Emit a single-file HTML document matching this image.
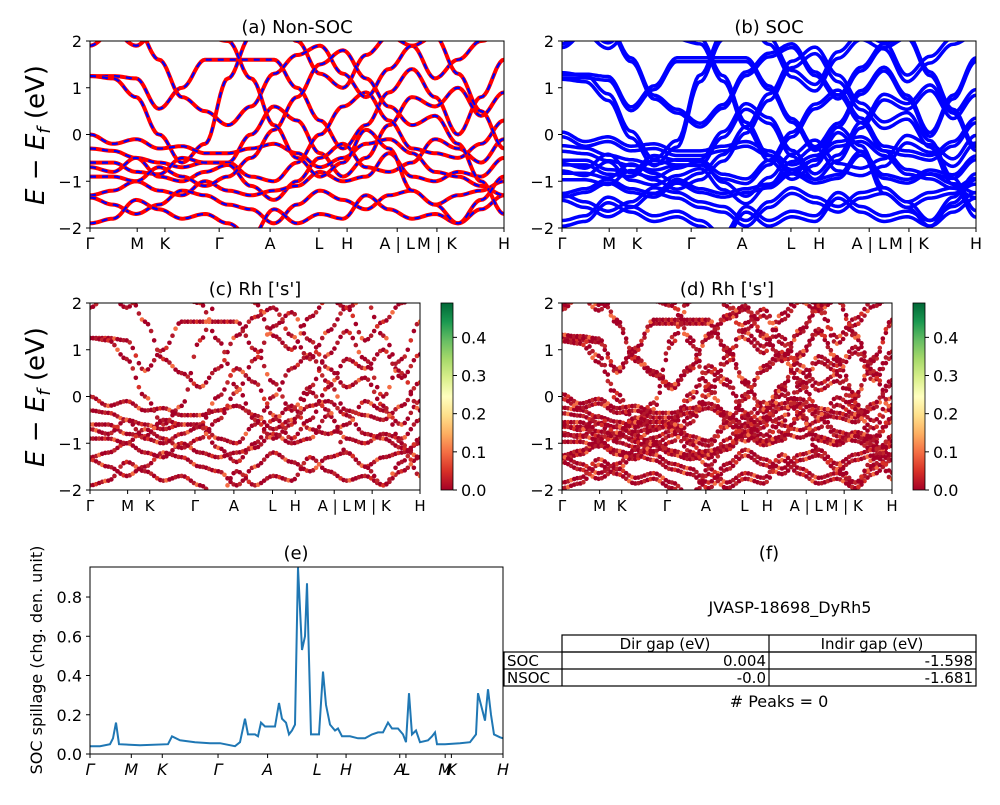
<!DOCTYPE html>
<html><head><meta charset="utf-8"><style>
body{margin:0;background:#fff}
svg text{font-family:"DejaVu Sans","Liberation Sans",sans-serif;fill:#000}
</style></head><body>
<svg id="fig" width="1000" height="800" xmlns="http://www.w3.org/2000/svg">
<defs>
<linearGradient id="cb" x1="0" y1="1" x2="0" y2="0">
<stop offset="0" stop-color="#a50026"/><stop offset="0.1" stop-color="#d73027"/><stop offset="0.2" stop-color="#f46d43"/><stop offset="0.3" stop-color="#fdae61"/><stop offset="0.4" stop-color="#fee08b"/><stop offset="0.5" stop-color="#ffffbf"/><stop offset="0.6" stop-color="#d9ef8b"/><stop offset="0.7" stop-color="#a6d96a"/><stop offset="0.8" stop-color="#66bd63"/><stop offset="0.9" stop-color="#1a9850"/><stop offset="1" stop-color="#006837"/>
</linearGradient>
<clipPath id="ca"><rect x="90" y="41" width="414" height="187"/></clipPath>
<clipPath id="cbb"><rect x="562" y="41" width="414" height="187"/></clipPath>
<clipPath id="cc"><rect x="90" y="303" width="330" height="187"/></clipPath>
<clipPath id="cd"><rect x="562" y="303" width="330" height="187"/></clipPath>
<clipPath id="ce"><rect x="90" y="567" width="413" height="187"/></clipPath>
</defs>
<g id="root"></g>
<g>
<text x="790" y="613" font-size="16" text-anchor="middle">JVASP-18698_DyRh5</text>
<g fill="none" stroke="#000" stroke-width="1.2">
<rect x="562" y="635" width="414" height="17"/><line x1="769" y1="635" x2="769" y2="686"/>
<rect x="504" y="652" width="472" height="34"/><line x1="504" y1="669" x2="976" y2="669"/><line x1="562" y1="652" x2="562" y2="686"/>
</g>
<text x="665" y="649" font-size="15" text-anchor="middle">Dir gap (eV)</text>
<text x="872" y="649" font-size="15" text-anchor="middle">Indir gap (eV)</text>
<text x="507" y="666" font-size="15">SOC</text><text x="507" y="683" font-size="15">NSOC</text>
<text x="766" y="666" font-size="15" text-anchor="end">0.004</text><text x="973" y="666" font-size="15" text-anchor="end">-1.598</text>
<text x="766" y="683" font-size="15" text-anchor="end">-0.0</text><text x="973" y="683" font-size="15" text-anchor="end">-1.681</text>
<text x="779" y="707" font-size="16" text-anchor="middle"># Peaks = 0</text>
</g>
</svg>
<script>
const kLabels=["Γ","M","K","Γ","A","L","H","A | L","M | K","H"];
const kTicks=[0,0.114,0.181,0.312,0.435,0.553,0.621,0.742,0.838,1.0];
const kLabelsSmall=["Γ","M","K","Γ","A","L","H","A | L","M | K","H"];
const kTicksSmall=[0,0.114,0.181,0.318,0.436,0.553,0.622,0.74,0.855,1.0];
const bands=[
[1.25,1.25,1.2,0.55,1.0,1.6,1.6,1.6,1.6,1.0,0.3,-0.3,0.2,0.9,1.4,0.8,0.0,0.8,1.6],
[1.25,1.2,0.8,0.0,-0.6,-0.2,1.2,2.1,2.5,2.0,1.3,1.0,1.7,2.1,1.9,1.2,1.6,2.0,2.2],
[-0.3,-0.35,-0.5,-0.6,-0.7,-0.6,-0.6,0.0,0.6,0.3,-0.4,-0.9,-0.5,0.2,0.8,0.6,1.0,0.4,0.9],
[-0.6,-0.6,-0.8,-0.85,-0.5,-0.6,-0.6,-0.9,-1.0,-0.6,0.0,0.6,0.9,0.3,-0.3,-0.4,-0.5,-0.2,0.3],
[-0.7,-0.8,-0.5,-0.9,-1.0,-0.8,-0.65,-1.1,-1.4,-1.0,-0.5,-0.2,-0.7,-0.8,-0.6,-0.1,-0.3,-0.6,-0.1],
[-1.3,-1.2,-1.0,-1.2,-1.3,-1.0,-1.2,-1.3,-1.2,-1.1,-0.8,-1.0,-0.9,-0.4,-0.9,-1.0,-0.8,-0.9,-0.5],
[-1.35,-1.5,-1.7,-1.5,-1.2,-1.3,-1.5,-1.6,-1.9,-1.5,-1.2,-1.4,-1.6,-1.3,-1.2,-1.5,-1.3,-1.2,-1.0],
[-1.9,-1.8,-1.4,-1.6,-1.8,-1.7,-1.9,-2.2,-1.6,-1.9,-1.7,-1.8,-1.3,-1.6,-1.8,-1.7,-1.9,-1.6,-1.3],
[0.0,-0.2,-0.1,-0.3,-0.25,-0.4,-0.4,-0.3,-0.2,-0.4,-0.7,-0.5,-0.2,-0.1,-0.4,-0.8,-0.9,-1.1,-1.3],
[1.9,2.2,2.3,1.6,0.8,0.5,0.2,0.6,1.3,1.7,1.9,1.3,0.8,1.4,1.9,2.1,1.3,0.5,-0.3],
[-0.9,-0.9,-1.0,-0.7,-0.9,-1.1,-0.9,-0.5,0.1,0.8,1.5,1.8,1.2,0.6,0.2,0.4,-0.2,-1.0,-1.7],
[2.1,2.2,1.9,2.3,2.2,2.1,2.0,1.2,0.2,-0.5,-0.9,-0.6,0.1,-0.3,-1.2,-1.5,-1.9,-1.4,-0.9]
];
const socSplit=[0.08,0.14,0.12,0.1,0.16,0.08,0.12,0.12,0.1,0.08,0.14,0.12];
const spillK=[0,10,20,23,26,29,50,78,82,90,105,120,130,145,150,155,158,165,168,171,175,185,189,192,196,199,202,205,208,212,215,217,221,229,233,236,240,245,248,252,260,268,275,282,288,293,298,302,308,313,316,319,322,326,330,338,342,345,347,355,370,380,386,388,392,395,398,401,404,410,413];
const spillV=[0.04,0.04,0.05,0.08,0.16,0.05,0.045,0.05,0.09,0.07,0.06,0.055,0.055,0.04,0.06,0.18,0.1,0.1,0.09,0.16,0.14,0.14,0.26,0.18,0.16,0.1,0.12,0.15,0.95,0.53,0.6,0.87,0.1,0.1,0.42,0.25,0.15,0.12,0.13,0.09,0.09,0.08,0.08,0.1,0.11,0.11,0.16,0.13,0.13,0.1,0.06,0.31,0.1,0.12,0.06,0.07,0.09,0.11,0.05,0.05,0.055,0.06,0.1,0.31,0.23,0.17,0.33,0.2,0.1,0.085,0.08];
const eTicks=[-2,-1,0,1,2];
const cbTicks=[0.0,0.1,0.2,0.3,0.4];
const spillTicks=[0.0,0.2,0.4,0.6,0.8];
const eTickLabels=["−2","−1","0","1","2"];
const root=document.getElementById('root');
const NS="http://www.w3.org/2000/svg";
function el(t,a,p){const e=document.createElementNS(NS,t);for(const k in a)e.setAttribute(k,a[k]);(p||root).appendChild(e);return e;}
function txt(x,y,s,fs,anchor,p){const t=el('text',{x:x,y:y,'font-size':fs,'text-anchor':anchor||'middle'},p);t.textContent=s;return t;}
function bandPts(b,off,X,Y){const n=b.length,pts=[];for(let i=0;i<n-1;i++){for(let s=0;s<12;s++){const f=s/12,w=(1-Math.cos(Math.PI*f))/2;const k=(i+f)/(n-1);pts.push([X(k),Y(b[i]*(1-w)+b[i+1]*w+off)]);}}pts.push([X(1),Y(b[n-1]+off)]);return pts;}
function axes(x0,y0,w,h,title,name){
 const g=el('g',{});
 const X=k=>x0+k*w, Y=e=>y0+h-(e+2)/4*h;
 return {g,X,Y,x0,y0,w,h,title};
}
function frame(A,ticks,labels,fs){
 const {g,X,Y,x0,y0,w,h}=A;
 el('rect',{x:x0,y:y0,width:w,height:h,fill:'none',stroke:'#000','stroke-width':1},g);
 ticks.forEach((k,i)=>{el('line',{x1:X(k),x2:X(k),y1:y0+h,y2:y0+h+4,stroke:'#000'},g);const t=txt(X(k),y0+h+21,labels[i],fs,'middle',g);});
 eTicks.forEach((e,i)=>{el('line',{x1:x0-4,x2:x0,y1:Y(e),y2:Y(e),stroke:'#000'},g);txt(x0-8,Y(e)+6,eTickLabels[i],16,'end',g);});
 const t=txt(x0+w/2,y0-8,A.title,18,'middle',g);
}
function path(pts){return 'M'+pts.map(p=>p[0].toFixed(1)+','+p[1].toFixed(1)).join('L');}
const A=axes(90,41,414,187,'(a) Non-SOC','panel-a-non-soc');
const ga=el('g',{'clip-path':'url(#ca)'},A.g);
bands.forEach(b=>{const p=path(bandPts(b,0,A.X,A.Y));
 const l=el('path',{d:p,fill:'none',stroke:'#ff0000','stroke-width':4},ga);
 
 
 el('path',{d:p,fill:'none',stroke:'#0000ff','stroke-width':2.2,'stroke-dasharray':'6,6'},ga);});
frame(A,kTicks,kLabels,16);
const B=axes(562,41,414,187,'(b) SOC','panel-b-soc');
const gb=el('g',{'clip-path':'url(#cbb)'},B.g);
bands.forEach((b,i)=>{[-socSplit[i]/2,socSplit[i]/2].forEach(o=>{const l=el('path',{d:path(bandPts(b,o,B.X,B.Y)),fill:'none',stroke:'#0000ff','stroke-width':3.5},gb);
 
 });});
frame(B,kTicks,kLabels,16);
const cols=['#a50026','#a50026','#b2182b','#a50026','#c0272d','#a50026','#d73027','#a50026','#b2182b','#f46d43'];
function scatter(x0,cbx,title,name,clip,soc){
 const S=axes(x0,303,330,187,title,name);
 const gs=el('g',{'clip-path':'url('+clip+')'},S.g);
 let c=0;
 bands.forEach((b,i)=>{const offs=soc?[-socSplit[i]/2,socSplit[i]/2]:[0];offs.forEach(o=>{const pts=bandPts(b,o,S.X,S.Y);for(let j=0;j<pts.length;j+=2){c++;const d=el('circle',{cx:pts[j][0],cy:pts[j][1],r:2.3,fill:cols[c%cols.length]},gs);
 
 }});});
 frame(S,kTicksSmall,kLabelsSmall,15);
 const cg=el('g',{});
 
 
 el('rect',{x:cbx,y:303,width:12,height:187,fill:'url(#cb)',stroke:'#000','stroke-width':0.8},cg);
 const cy=v=>490-v/0.49*187;
 cbTicks.forEach(v=>{el('line',{x1:cbx+12,x2:cbx+16,y1:cy(v),y2:cy(v),stroke:'#000'},cg);txt(cbx+20,cy(v)+6,v.toFixed(1),16,'start',cg);});
}
scatter(90,441,'(c)  Rh [\'s\']','panel-c-rh-s-nonsoc','#cc',false);
scatter(562,913,'(d) Rh [\'s\']','panel-d-rh-s-soc','#cd',true);
[135,397].forEach(y=>{const t=el('text',{x:0,y:0,'font-size':26,'text-anchor':'middle',transform:'translate(44,'+y+') rotate(-90)'});t.innerHTML='<tspan font-style="italic">E</tspan> − <tspan font-style="italic">E</tspan><tspan font-style="italic" font-size="18" dy="6">f</tspan><tspan dy="-6"> (eV)</tspan>';
 
 });
const E={x0:90,y0:567,w:413,h:187};
const ge=el('g',{});


const sx=k=>E.x0+k/413*E.w, sy=v=>E.y0+E.h-v/0.953*E.h;
const sl=el('path',{d:'M'+spillK.map((k,i)=>sx(k).toFixed(1)+','+sy(spillV[i]).toFixed(1)).join('L'),fill:'none',stroke:'#1f77b4','stroke-width':2,'clip-path':'url(#ce)'},ge);


el('rect',{x:E.x0,y:E.y0,width:E.w,height:E.h,fill:'none',stroke:'#000'},ge);
spillTicks.forEach(v=>{el('line',{x1:86,x2:90,y1:sy(v),y2:sy(v),stroke:'#000'},ge);txt(82,sy(v)+6,v.toFixed(1),16,'end',ge);});
const eLabels=["Γ","M","K","Γ","A","L","H","A","L","M","K","H"];
const eK=[0,0.1,0.175,0.31,0.43,0.55,0.62,0.75,0.765,0.86,0.875,1.0];
eK.forEach((k,i)=>{el('line',{x1:sx(k*413),x2:sx(k*413),y1:754,y2:758,stroke:'#000'},ge);const t=txt(sx(k*413),775,eLabels[i],16,'middle',ge);t.setAttribute('font-style','italic');});
txt(296,559,'(e)',18,'middle',ge);
const st=el('text',{x:0,y:0,'font-size':16,'text-anchor':'middle',transform:'translate(42,660) rotate(-90)'});st.textContent='SOC spillage (chg. den. unit)';


txt(769,559,'(f)',18,'middle');
</script>
</body></html>
